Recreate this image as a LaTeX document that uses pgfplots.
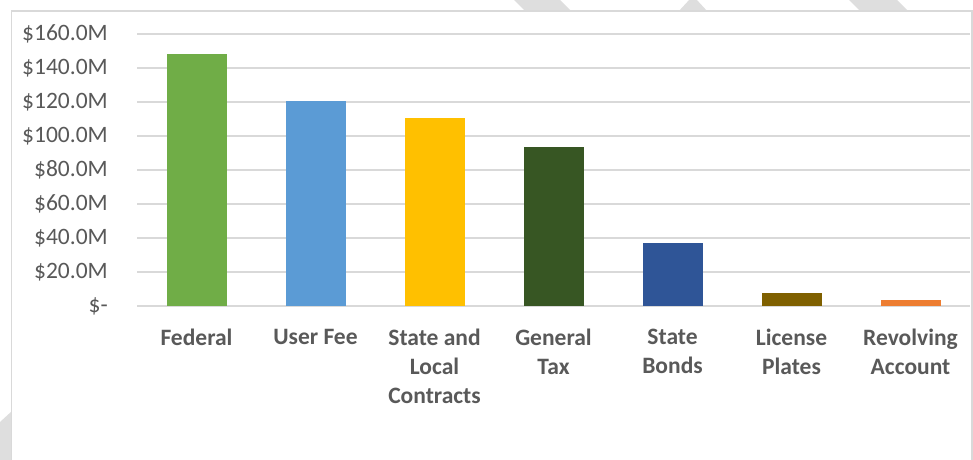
\documentclass[border=0pt]{standalone}
\usepackage{pgfplots}
\pgfplotsset{compat=1.18}
\usepackage{fontspec}
\setmainfont{Carlito}

\definecolor{gridgray}{HTML}{D9D9D9}
\definecolor{stripe}{HTML}{DEDEDE}
\definecolor{txt}{HTML}{595959}
\definecolor{cFed}{HTML}{70AD47}
\definecolor{cUser}{HTML}{5B9BD5}
\definecolor{cState}{HTML}{FFC000}
\definecolor{cGen}{HTML}{375623}
\definecolor{cBonds}{HTML}{2F5597}
\definecolor{cPlates}{HTML}{7F6000}
\definecolor{cRev}{HTML}{ED7D31}

\begin{document}
\begin{tikzpicture}[x=1pt,y=1pt]
\useasboundingbox (0,0) rectangle (973,459);
% faint background stripes outside the chart frame
\fill[stripe] (512,461) -- (558,461) -- (572,447) -- (526,447) -- cycle;
\fill[stripe] (678,447) -- (708,447) -- (696,460) -- (690,460) -- cycle;
\fill[stripe] (847,461) -- (895,461) -- (909,447) -- (861,447) -- cycle;
\fill[stripe] (0,-1) -- (0,37) -- (12,48) -- (12,-1) -- cycle;
% chart frame
\filldraw[fill=white, draw=gridgray, line width=1.5pt] (11.7,-5) rectangle (972,448);

\begin{axis}[
    at={(137pt,153pt)}, anchor=south west,
    scale only axis,
    width=833pt, height=272pt,
    xmin=-0.5, xmax=6.5,
    ymin=0, ymax=160,
    axis x line=bottom, axis y line=left,
    x axis line style={draw=gridgray, line width=1.5pt, -},
    y axis line style={draw=none},
    major tick length=0pt,
    ymajorgrids,
    grid style={draw=gridgray, line width=1.2pt},
    xtick={0,1,2,3,4,5,6},
    xticklabels={{Federal\\\strut}, {User Fee\\\strut}, {State and\\Local\\Contracts}, {General\\Tax}, {State\\Bonds}, {License\\Plates}, {Revolving\\Account}},
    xticklabel style={font=\fontsize{23.5}{29}\selectfont\bfseries, text=txt, align=center, anchor=north, inner sep=0pt, yshift=-23pt, execute at begin node=\strut},
    ytick={0,20,40,60,80,100,120,140,160},
    yticklabels={\$-, \$20.0M, \$40.0M, \$60.0M, \$80.0M, \$100.0M, \$120.0M, \$140.0M, \$160.0M},
    yticklabel style={font=\fontsize{23.5}{28}\selectfont, text=txt, anchor=east, inner sep=0pt, xshift=-29pt},
    clip=false,
]
\addplot[ybar, bar width=60pt, bar shift=0pt, fill=cFed, draw=none] coordinates {(0,148.2)};
\addplot[ybar, bar width=60pt, bar shift=0pt, fill=cUser, draw=none] coordinates {(1,120.6)};
\addplot[ybar, bar width=60pt, bar shift=0pt, fill=cState, draw=none] coordinates {(2,110.6)};
\addplot[ybar, bar width=60pt, bar shift=0pt, fill=cGen, draw=none] coordinates {(3,93.5)};
\addplot[ybar, bar width=60pt, bar shift=0pt, fill=cBonds, draw=none] coordinates {(4,37.0)};
\addplot[ybar, bar width=60pt, bar shift=0pt, fill=cPlates, draw=none] coordinates {(5,7.6)};
\addplot[ybar, bar width=60pt, bar shift=0pt, fill=cRev, draw=none] coordinates {(6,3.5)};
\end{axis}
\end{tikzpicture}
\end{document}
